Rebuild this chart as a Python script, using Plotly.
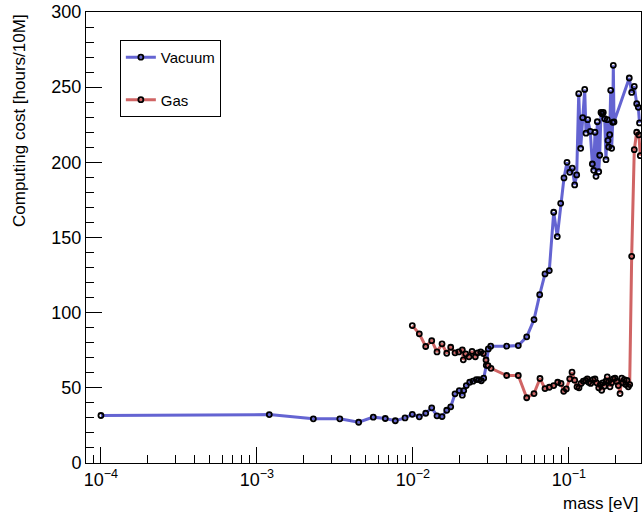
import plotly.graph_objects as go

vac_mass = [1.0e-4, 1.2e-3, 2.3e-3, 3.4e-3, 4.49e-3, 5.57e-3, 6.65e-3, 7.71e-3, 8.9e-3, 9.91e-3,
            0.01099, 0.01208, 0.0132, 0.01427, 0.01537, 0.01647, 0.01747, 0.01862, 0.01983, 0.02074,
            0.02117, 0.02199, 0.02312, 0.02428, 0.02549, 0.02652, 0.02745, 0.02843, 0.02954, 0.03043,
            0.03153, 0.03993, 0.04738, 0.05364, 0.05975, 0.06498, 0.07027, 0.07487, 0.07991, 0.08425,
            0.08858, 0.09301, 0.09723, 0.1012, 0.1051, 0.1089, 0.1122, 0.1156, 0.1190, 0.1226,
            0.1263, 0.1287, 0.1320, 0.1371, 0.1413, 0.1442, 0.1470, 0.1492, 0.1521, 0.1553,
            0.1576, 0.1606, 0.1630, 0.1661, 0.1696, 0.1728, 0.1762, 0.1780, 0.1799, 0.1826,
            0.1853, 0.1880, 0.1909, 0.1926, 0.1946, 0.2438, 0.2526, 0.2625, 0.2720, 0.2786, 0.2836]
vac_cost = [31.6, 32.2, 29.4, 29.4, 27.1, 30.5, 29.6, 28.1, 30.0, 32.4,
            30.7, 33.1, 36.7, 31.4, 30.9, 35.1, 37.4, 46.0, 48.2, 45.1,
            48.2, 51.5, 53.7, 54.4, 55.5, 55.5, 54.7, 56.4, 65.0, 75.9,
            77.7, 77.7, 78.1, 83.9, 95.4, 112.0, 125.8, 128.0, 166.8, 150.6,
            172.7, 189.6, 200.0, 193.4, 196.2, 185.0, 191.6, 245.7, 209.3, 229.7,
            248.5, 219.4, 228.4, 220.6, 198.9, 194.7, 220.0, 190.7, 227.0, 193.8,
            204.7, 233.2, 232.4, 233.2, 229.0, 201.8, 228.4, 214.6, 210.2, 218.4,
            247.9, 209.3, 226.6, 264.5, 226.9, 256.1, 246.5, 250.5, 239.0, 236.6, 226.2]

gas_mass = [9.91e-3, 0.01099, 0.01208, 0.0132, 0.01427, 0.01537, 0.01647, 0.01747, 0.01862, 0.01966,
            0.02074, 0.02104, 0.02181, 0.02289, 0.02393, 0.02512, 0.02603, 0.02720, 0.02827, 0.02942,
            0.03030, 0.03167, 0.03993, 0.04738, 0.05364, 0.05975, 0.06527, 0.07027, 0.07487, 0.07991,
            0.08475, 0.08900, 0.09261, 0.09623, 0.1012, 0.1047, 0.1089, 0.1127, 0.1161, 0.1196,
            0.1237, 0.1281, 0.1312, 0.1339, 0.1379, 0.1427, 0.1470, 0.1507, 0.1553, 0.1590,
            0.1623, 0.1647, 0.1686, 0.1728, 0.1762, 0.1799, 0.1834, 0.1880, 0.1926, 0.1975,
            0.2025, 0.2074, 0.2127, 0.2181, 0.2223, 0.2266, 0.2312, 0.2357, 0.2403, 0.2453,
            0.2526, 0.2625, 0.2720, 0.2810, 0.2869]
gas_cost = [91.4, 85.9, 77.5, 81.4, 73.9, 79.3, 73.0, 77.0, 73.3, 73.9,
            75.3, 68.6, 72.6, 70.6, 74.3, 70.6, 73.3, 73.9, 72.8, 68.5,
            64.8, 63.0, 58.2, 58.2, 43.4, 46.2, 56.2, 49.5, 50.4, 51.5,
            53.7, 52.9, 47.7, 49.3, 56.0, 60.4, 55.1, 50.7, 50.0, 52.9,
            54.4, 54.9, 56.0, 53.7, 52.9, 55.5, 56.0, 53.3, 50.0, 52.2,
            48.4, 53.3, 51.1, 54.4, 57.3, 54.4, 50.7, 53.3, 56.0, 56.4,
            54.4, 51.5, 46.2, 56.4, 53.3, 55.5, 52.2, 54.9, 50.7, 52.2,
            137.5, 208.4, 220.0, 218.2, 204.4]

x_tickvals = [1e-4, 1e-3, 1e-2, 1e-1]
x_ticktext = ["10<sup>\u22124</sup>", "10<sup>\u22123</sup>", "10<sup>\u22122</sup>", "10<sup>\u22121</sup>"]

BLUE = "#6464d2"
RED = "#d06464"
FONT = "Liberation Sans, Arial, sans-serif"

marker = dict(symbol="circle-open", size=5, color="black", line=dict(color="black", width=1.8))

fig = go.Figure()
fig.add_trace(go.Scatter(x=vac_mass, y=vac_cost, mode="lines+markers", name="Vacuum",
                         line=dict(color=BLUE, width=3), marker=marker, legendgroup="v"))
fig.add_trace(go.Scatter(x=gas_mass, y=gas_cost, mode="lines+markers", name="Gas",
                         line=dict(color=RED, width=3), marker=marker, legendgroup="g"))

fig.update_layout(
    width=642, height=513,
    margin=dict(l=86, r=1, t=12, b=50, autoexpand=False),
    paper_bgcolor="white", plot_bgcolor="white",
    font=dict(family=FONT, size=18, color="black"),
    showlegend=True,
    legend=dict(x=0.061, y=0.938, xanchor="left", yanchor="top",
                bgcolor="white", bordercolor="black", borderwidth=1,
                font=dict(size=15), tracegroupgap=20, itemwidth=30,
                traceorder="grouped"),
    xaxis=dict(type="log", range=[-4.0958, -0.5378], automargin=False,
               tickvals=x_tickvals, ticktext=x_ticktext,
               ticks="inside", ticklen=16, tickwidth=1, tickcolor="black",
               showline=True, linecolor="black", linewidth=1, mirror=True,
               showgrid=False, zeroline=False,
               minor=dict(dtick="D1", ticks="inside", ticklen=8, tickcolor="black", showgrid=False),
               tickfont=dict(size=18)),
    yaxis=dict(range=[0, 300], dtick=50, tick0=0, automargin=False,
               ticks="inside", ticklen=16, tickwidth=1, tickcolor="black",
               showline=True, linecolor="black", linewidth=1, mirror=True,
               showgrid=False, zeroline=False,
               minor=dict(dtick=10, ticks="inside", ticklen=8, tickcolor="black", showgrid=False),
               tickfont=dict(size=18)),
    annotations=[
        dict(text="mass [eV]", x=1, y=0, xref="paper", yref="paper",
             xanchor="right", yanchor="middle", yshift=-40, showarrow=False,
             font=dict(size=17)),
        dict(text="Computing cost [hours/10M]", x=0, y=1, xref="paper", yref="paper",
             xanchor="right", yanchor="top", xshift=-55, textangle=-90, showarrow=False,
             font=dict(size=17)),
    ],
)

fig.write_html("out.html", config={"displayModeBar": False},
               post_script="document.body.style.margin='0px';document.body.style.overflow='hidden';")
